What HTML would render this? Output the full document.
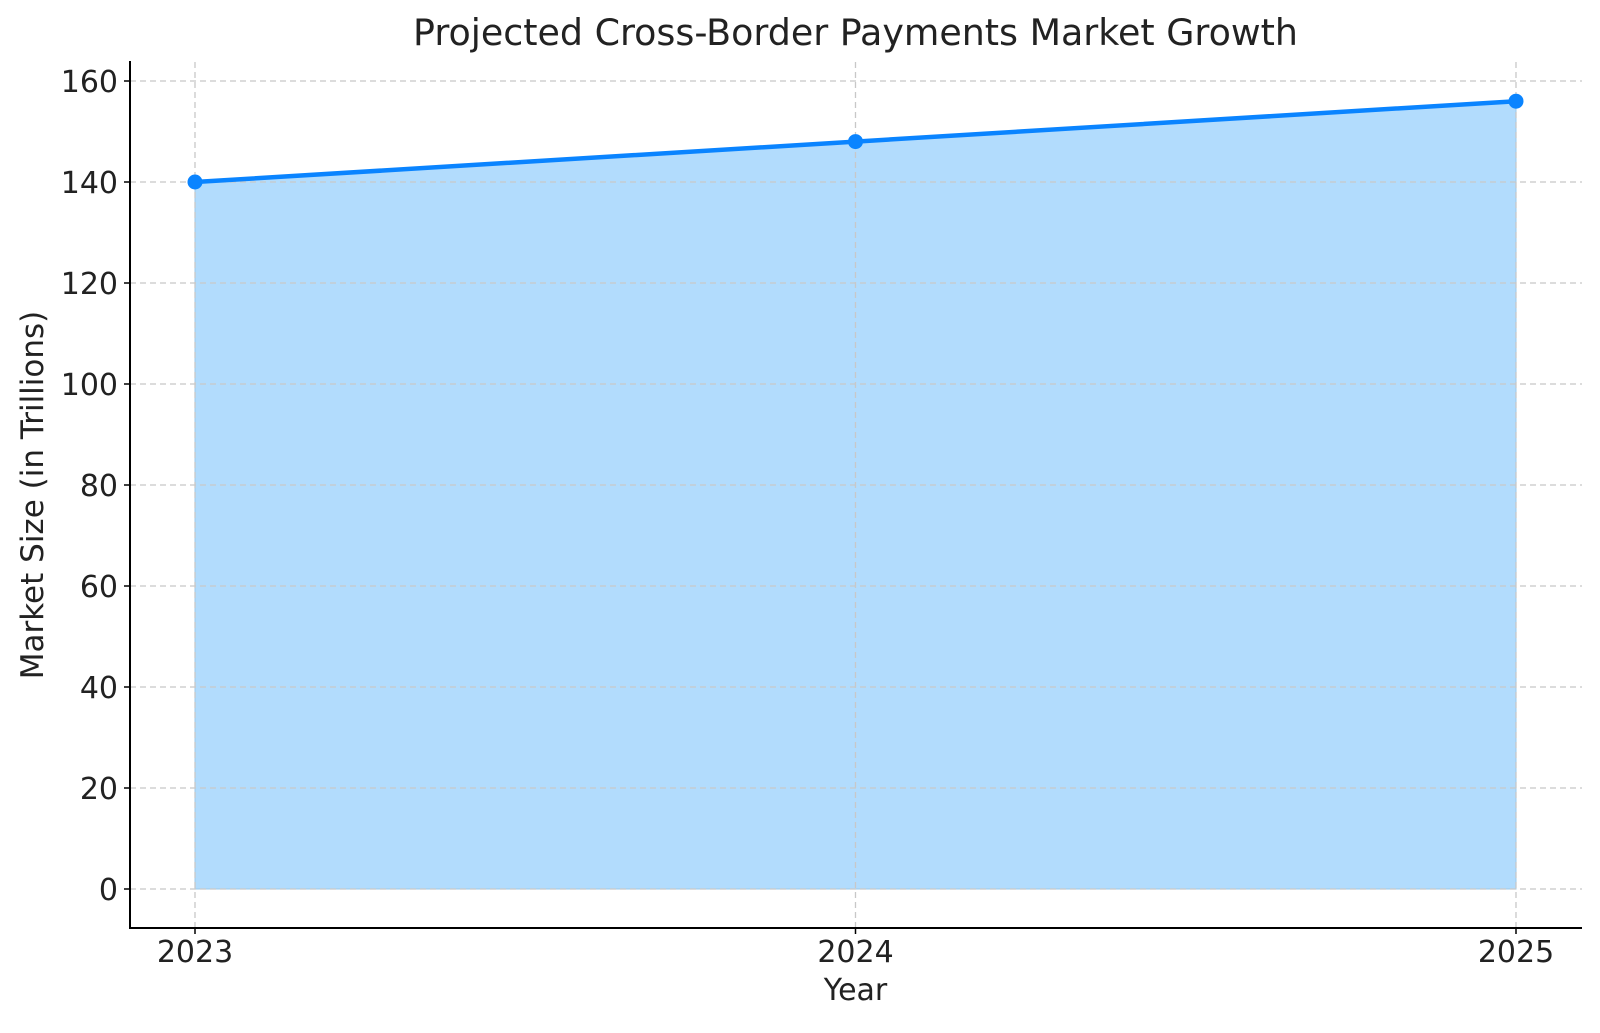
<!DOCTYPE html>
<html><head><style>body{margin:0;background:#fff}</style></head><body>
<svg width="1600" height="1028" xmlns="http://www.w3.org/2000/svg" font-family="DejaVu Sans, Liberation Sans, sans-serif">
<rect width="1600" height="1028" fill="#fff"/>
<polygon points="195,182 855.5,141.6 1516,101.2 1516,889 195,889" fill="#b2dcfd" stroke="#9cc8e8" stroke-width="1"/>
<g stroke="#c8c8c8" stroke-width="1.3" stroke-dasharray="6,4">
<line x1="130" x2="1582" y1="889" y2="889"/>
<line x1="130" x2="1582" y1="788" y2="788"/>
<line x1="130" x2="1582" y1="687" y2="687"/>
<line x1="130" x2="1582" y1="586" y2="586"/>
<line x1="130" x2="1582" y1="485" y2="485"/>
<line x1="130" x2="1582" y1="384" y2="384"/>
<line x1="130" x2="1582" y1="283" y2="283"/>
<line x1="130" x2="1582" y1="182" y2="182"/>
<line x1="130" x2="1582" y1="81" y2="81"/>
<line x1="195" x2="195" y1="62" y2="928"/>
<line x1="855.5" x2="855.5" y1="62" y2="928"/>
<line x1="1516" x2="1516" y1="62" y2="928"/>
</g>
<polyline points="195,182 855.5,141.6 1516,101.2" fill="none" stroke="#0a84ff" stroke-width="4.5"/>
<g fill="#0a84ff"><circle cx="195" cy="182" r="7.5"/><circle cx="855.5" cy="141.6" r="7.5"/><circle cx="1516" cy="101.2" r="7.5"/></g>
<g stroke="#000" stroke-width="2"><line x1="130" y1="61" x2="130" y2="929"/><line x1="129" y1="928" x2="1582" y2="928"/>
<g stroke-width="1.5"><line x1="124" x2="130" y1="889" y2="889"/><line x1="124" x2="130" y1="788" y2="788"/><line x1="124" x2="130" y1="687" y2="687"/><line x1="124" x2="130" y1="586" y2="586"/><line x1="124" x2="130" y1="485" y2="485"/><line x1="124" x2="130" y1="384" y2="384"/><line x1="124" x2="130" y1="283" y2="283"/><line x1="124" x2="130" y1="182" y2="182"/><line x1="124" x2="130" y1="81" y2="81"/>
<line x1="195" x2="195" y1="928" y2="934"/><line x1="855.5" x2="855.5" y1="928" y2="934"/><line x1="1516" x2="1516" y1="928" y2="934"/></g></g>
<g font-size="30" fill="#222" text-anchor="end">
<text x="118" y="900">0</text><text x="118" y="799">20</text><text x="118" y="698">40</text><text x="118" y="597">60</text><text x="118" y="496">80</text><text x="118" y="395">100</text><text x="118" y="294">120</text><text x="118" y="193">140</text><text x="118" y="92">160</text>
</g>
<g font-size="30" fill="#222" text-anchor="middle">
<text x="195" y="962">2023</text><text x="855.5" y="962">2024</text><text x="1516" y="962">2025</text>
<text x="855.5" y="1000">Year</text>
<text x="855.5" y="45" font-size="36.4">Projected Cross-Border Payments Market Growth</text>
<text transform="translate(43,495) rotate(-90)" font-size="31">Market Size (in Trillions)</text>
</g>
</svg>
</body></html>
